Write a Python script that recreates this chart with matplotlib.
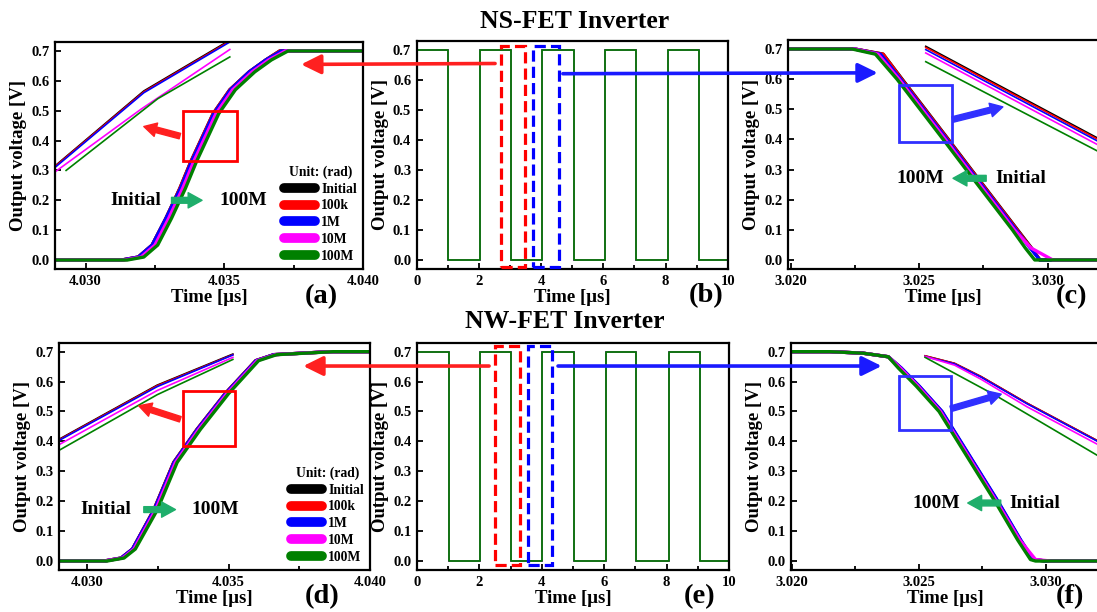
"""NS-FET vs NW-FET inverter transients under irradiation (6 panels)."""

import matplotlib

matplotlib.use("Agg")
import matplotlib.pyplot as plt
from matplotlib.lines import Line2D
from matplotlib.patches import ConnectionPatch, Rectangle

plt.rcParams["font.family"] = ["Liberation Serif", "DejaVu Serif"]
plt.rcParams["font.weight"] = "bold"
plt.rcParams["axes.labelweight"] = "bold"

DOSES = ["Initial", "100k", "1M", "10M", "100M"]
COLORS = ["#000000", "#ff0000", "#0000ff", "#ff00ff", "#008000"]
ARROW_GREEN = "#1fae6b"

# ---- (a) NS-FET rising edge, 4.03 us ---------------------------------------
V_RISE_A = [0.0, 0.0, 0.01, 0.05, 0.14, 0.24, 0.33, 0.41, 0.49, 0.57, 0.63, 0.67, 0.70, 0.70]
T_RISE_A = {
    "Initial": [4.0289, 4.0313, 4.0319, 4.0324, 4.0329, 4.0334, 4.0338, 4.0342, 4.0346, 4.0352, 4.0359, 4.0365, 4.0370, 4.0400],
    "100k":    [4.0289, 4.0313, 4.0319, 4.0324, 4.0329, 4.0334, 4.0338, 4.0342, 4.0346, 4.0352, 4.0359, 4.0365, 4.0370, 4.0400],
    "1M":      [4.0289, 4.0313, 4.0319, 4.0324, 4.0329, 4.03342, 4.03382, 4.03422, 4.03462, 4.03522, 4.0359, 4.0365, 4.03705, 4.0400],
    "10M":     [4.0289, 4.0314, 4.0320, 4.0325, 4.0330, 4.0335, 4.0339, 4.0343, 4.0347, 4.0353, 4.0360, 4.0366, 4.0372, 4.0400],
    "100M":    [4.0289, 4.0315, 4.0321, 4.0326, 4.0331, 4.0336, 4.0340, 4.0344, 4.0348, 4.0354, 4.0361, 4.0367, 4.0373, 4.0400],
}
# magnified view pasted into the upper-left corner
ZOOM_A_T = {
    "Initial": [4.0289, 4.0321, 4.0352],
    "100k":    [4.0289, 4.0321, 4.0352],
    "1M":      [4.0289, 4.0321, 4.0352],
    "10M":     [4.0289, 4.0320, 4.0352],
    "100M":    [4.0293, 4.0326, 4.0352],
}
ZOOM_A_V = {
    "Initial": [0.315, 0.566, 0.736],
    "100k":    [0.313, 0.563, 0.733],
    "1M":      [0.310, 0.560, 0.730],
    "10M":     [0.295, 0.505, 0.705],
    "100M":    [0.300, 0.540, 0.680],
}

# ---- (b)/(e) full 10 us output waveforms -----------------------------------
V_SQ = [0.7, 0.7, 0.0, 0.0, 0.7, 0.7, 0.0, 0.0, 0.7, 0.7, 0.0, 0.0, 0.7, 0.7, 0.0, 0.0, 0.7, 0.7, 0.0, 0.0]
T_SQ_B = [0, 1.02, 1.02, 2.02, 2.02, 3.03, 3.03, 4.04, 4.04, 5.06, 5.06, 6.06, 6.06, 7.06, 7.06, 8.07, 8.07, 9.08, 9.08, 10]
T_SQ_E = [0, 1.02, 1.02, 2.03, 2.03, 3.02, 3.02, 4.02, 4.02, 5.03, 5.03, 6.05, 6.05, 7.03, 7.03, 8.08, 8.08, 9.06, 9.06, 10]

# ---- (c) NS-FET falling edge, 3.02 us --------------------------------------
V_FALL_C = [0.7, 0.7, 0.683, 0.6, 0.5, 0.4, 0.3, 0.2, 0.1, 0.04, 0.0, 0.0]
T_FALL_C = {
    "Initial": [3.0199, 3.0225, 3.0236, 3.02434, 3.02524, 3.02614, 3.02703, 3.02793, 3.02883, 3.02937, 3.0297, 3.0322],
    "100k":    [3.0199, 3.0225, 3.0236, 3.02432, 3.02522, 3.02612, 3.02701, 3.02791, 3.02881, 3.02935, 3.0297, 3.0322],
    "1M":      [3.0199, 3.0225, 3.0235, 3.02428, 3.02518, 3.02608, 3.02697, 3.02787, 3.02877, 3.02932, 3.0297, 3.0322],
    "10M":     [3.0199, 3.0225, 3.0234, 3.02422, 3.02512, 3.02602, 3.02691, 3.02781, 3.02871, 3.02935, 3.0302, 3.0322],
    "100M":    [3.0199, 3.0224, 3.0233, 3.02414, 3.02504, 3.02594, 3.02683, 3.02773, 3.02863, 3.02913, 3.0295, 3.0322],
}
ZOOM_C_T = [3.02526, 3.0322]
ZOOM_C_V = {
    "Initial": [0.709, 0.393],
    "100k":    [0.705, 0.389],
    "1M":      [0.698, 0.383],
    "10M":     [0.687, 0.371],
    "100M":    [0.658, 0.350],
}

# ---- (d) NW-FET rising edge ------------------------------------------------
V_RISE_D = [0.0, 0.0, 0.01, 0.04, 0.17, 0.33, 0.44, 0.56, 0.67, 0.69, 0.70, 0.70]
T_RISE_D = {
    "Initial": [4.029, 4.0306, 4.0312, 4.0316, 4.03235, 4.03306, 4.03388, 4.03488, 4.03596, 4.0366, 4.0386, 4.0400],
    "100k":    [4.029, 4.0306, 4.0312, 4.0316, 4.03235, 4.03306, 4.03388, 4.03488, 4.03596, 4.0366, 4.0386, 4.0400],
    "1M":      [4.029, 4.0306, 4.0312, 4.0316, 4.03236, 4.03307, 4.03389, 4.03489, 4.03597, 4.0366, 4.0386, 4.0400],
    "10M":     [4.029, 4.0306, 4.03125, 4.03165, 4.03241, 4.03312, 4.03394, 4.03494, 4.03601, 4.03665, 4.0386, 4.0400],
    "100M":    [4.029, 4.0307, 4.0313, 4.0317, 4.03247, 4.03318, 4.0340, 4.0350, 4.03606, 4.0367, 4.0387, 4.0400],
}
ZOOM_D_T = [4.029, 4.03247, 4.03515]
ZOOM_D_V = {
    "Initial": [0.407, 0.588, 0.692],
    "100k":    [0.405, 0.586, 0.690],
    "1M":      [0.403, 0.583, 0.689],
    "10M":     [0.389, 0.570, 0.681],
    "100M":    [0.370, 0.556, 0.674],
}

# ---- (f) NW-FET falling edge -----------------------------------------------
V_FALL_F = [0.7, 0.7, 0.695, 0.683, 0.645, 0.585, 0.5, 0.35, 0.2, 0.07, 0.005, 0.0, 0.0]
T_FALL_F = {
    "Initial": [3.0199, 3.0215, 3.0228, 3.0238, 3.0243, 3.0250, 3.0259, 3.0270, 3.0281, 3.0290, 3.0295, 3.0300, 3.0322],
    "100k":    [3.0199, 3.0215, 3.0228, 3.0238, 3.0243, 3.0250, 3.0259, 3.0270, 3.0281, 3.0290, 3.0295, 3.0300, 3.0322],
    "1M":      [3.0199, 3.0215, 3.0228, 3.0238, 3.02432, 3.02502, 3.02592, 3.02702, 3.02812, 3.02902, 3.02952, 3.0300, 3.0322],
    "10M":     [3.0199, 3.0215, 3.0228, 3.0238, 3.02428, 3.02497, 3.02586, 3.02696, 3.02806, 3.02898, 3.0296, 3.0302, 3.0322],
    "100M":    [3.0199, 3.0215, 3.0228, 3.0238, 3.0242, 3.0249, 3.0258, 3.0269, 3.0280, 3.0289, 3.0294, 3.0296, 3.0322],
}
ZOOM_F_T = {
    "Initial": [3.02525, 3.02641, 3.02745, 3.02926, 3.0322],
    "100k":    [3.02525, 3.02641, 3.02745, 3.02926, 3.0322],
    "1M":      [3.02525, 3.02641, 3.02745, 3.02926, 3.0322],
    "10M":     [3.02525, 3.02641, 3.02745, 3.02926, 3.0322],
    "100M":    [3.02525, 3.0280, 3.0322],
}
ZOOM_F_V = {
    "Initial": [0.686, 0.661, 0.617, 0.528, 0.395],
    "100k":    [0.686, 0.661, 0.617, 0.528, 0.395],
    "1M":      [0.684, 0.659, 0.615, 0.526, 0.393],
    "10M":     [0.684, 0.655, 0.608, 0.516, 0.383],
    "100M":    [0.681, 0.555, 0.345],
}

YTICKS = [0.0, 0.1, 0.2, 0.3, 0.4, 0.5, 0.6, 0.7]

fig = plt.figure(figsize=(10.97, 6.12), dpi=100)
W, H = 1097, 612


def px_axes(left, top, right, bottom):
    """Axes placed by its pixel box in the 1097x612 canvas."""
    return fig.add_axes([left / W, 1 - bottom / H, (right - left) / W, (bottom - top) / H])


def style(ax, xlim, xticks, xminor, fmt, letter, letter_xy):
    ax.set_xlim(*xlim)
    ax.set_ylim(-0.03, 0.73)
    ax.set_xticks(xticks)
    ax.set_xticks(xminor, minor=True)
    ax.set_xticklabels([fmt.format(x) for x in xticks])
    ax.set_yticks(YTICKS)
    ax.set_yticklabels([f"{y:.1f}" for y in YTICKS])
    ax.tick_params(which="both", direction="in", labelsize=10.5, width=1.3, pad=4)
    ax.tick_params(which="major", length=4.5)
    ax.tick_params(which="minor", length=3)
    ax.tick_params(top=False, right=False)
    for s in ax.spines.values():
        s.set_linewidth(1.6)
    ax.set_xlabel("Time [\u03bcs]", fontsize=13.5, labelpad=1)
    ax.set_ylabel("Output voltage [V]", fontsize=13.5, labelpad=3)
    ax.text(*letter_xy, letter, transform=ax.transAxes, fontsize=20.5,
            ha="center", va="center", clip_on=False)


def edge_panel(ax, times, volts, zoom_t, zoom_v):
    for dose, c in zip(DOSES, COLORS):
        ax.plot(times[dose], volts, color=c, lw=2.4, solid_joinstyle="round")
    for dose, c in zip(DOSES, COLORS):
        zt = zoom_t[dose] if isinstance(zoom_t, dict) else zoom_t
        ax.plot(zt, zoom_v[dose], color=c, lw=1.2)


def wave_panel(ax, t_sq):
    for c in COLORS:
        ax.plot(t_sq, V_SQ, color=c, lw=1.3)


def box(ax, x0, x1, y0, y1, color, dashed=False):
    ax.add_patch(Rectangle((x0, y0), x1 - x0, y1 - y0, fill=False, ec=color,
                           lw=2.3 if dashed else 2.0,
                           ls=(0, (3.5, 1.6)) if dashed else "-", clip_on=False, zorder=5))


def arrow(ax, start, end, color, scale=10, tail=0.42):
    ax.annotate("", xy=end, xytext=start,
                arrowprops=dict(arrowstyle=f"simple,head_width=1.1,head_length=1.0,tail_width={tail}",
                                fc=color, ec=color, mutation_scale=scale, shrinkA=0, shrinkB=0),
                zorder=6)


def link(ax_from, xy_from, ax_to, xy_to, color):
    con = ConnectionPatch(xyA=xy_from, coordsA=ax_from.transData, xyB=xy_to, coordsB=ax_to.transData,
                          arrowstyle="-|>,head_length=0.85,head_width=0.42", mutation_scale=14,
                          color=color, lw=2.6, shrinkA=0, shrinkB=0)
    fig.add_artist(con)


def legend(ax):
    handles = [Line2D([], [], color=c, lw=7, solid_capstyle="round") for c in COLORS]
    leg = ax.legend(handles, DOSES, title="Unit: (rad)", loc="lower right",
                    bbox_to_anchor=(1.0, 0.0), frameon=False, fontsize=9.8,
                    title_fontsize=9.8, handlelength=2.3, handletextpad=0.45,
                    labelspacing=0.28, borderaxespad=0.25, borderpad=0.2)
    leg.get_title().set_fontweight("bold")


# ---------------- top row: NS-FET ----------------
ax_a = px_axes(55, 42, 363, 269)
edge_panel(ax_a, T_RISE_A, V_RISE_A, ZOOM_A_T, ZOOM_A_V)
style(ax_a, (4.0289, 4.0400), [4.030, 4.035, 4.040], [4.0325, 4.0375], "{:.3f}", "(a)", (0.866, -0.122))
box(ax_a, 4.0335, 4.03545, 0.33, 0.50, "#ff0000")
arrow(ax_a, (4.0334, 0.415), (4.0321, 0.447), "#ff2020", scale=9, tail=0.45)
ax_a.text(4.0318, 0.2, "Initial", fontsize=14, ha="center", va="center")
ax_a.text(4.0357, 0.2, "100M", fontsize=14, ha="center", va="center")
arrow(ax_a, (4.0331, 0.2), (4.0342, 0.2), ARROW_GREEN)
legend(ax_a)

ax_b = px_axes(416.7, 41, 727.7, 269)
wave_panel(ax_b, T_SQ_B)
style(ax_b, (0, 10), [0, 2, 4, 6, 8, 10], [1, 3, 5, 7, 9], "{:d}", "(b)", (0.932, -0.115))
box(ax_b, 2.70, 3.48, -0.024, 0.713, "#ff0000", dashed=True)
box(ax_b, 3.75, 4.58, -0.024, 0.713, "#0000ff", dashed=True)

ax_c = px_axes(788, 40, 1099, 269)
edge_panel(ax_c, T_FALL_C, V_FALL_C, ZOOM_C_T, ZOOM_C_V)
style(ax_c, (3.0199, 3.0320), [3.020, 3.025, 3.030], [3.0225, 3.0275], "{:.3f}", "(c)", (0.913, -0.119))
box(ax_c, 3.02423, 3.0263, 0.39, 0.58, "#3030ff")
arrow(ax_c, (3.0263, 0.466), (3.02826, 0.508), "#3030ff", scale=9, tail=0.45)
ax_c.text(3.02503, 0.271, "100M", fontsize=14, ha="center", va="center")
ax_c.text(3.02897, 0.271, "Initial", fontsize=14, ha="center", va="center")
arrow(ax_c, (3.02761, 0.271), (3.02632, 0.271), ARROW_GREEN)

link(ax_b, (2.52, 0.655), ax_a, (4.03777, 0.655), "#ff2020")
link(ax_b, (4.70, 0.621), ax_c, (3.02339, 0.621), "#1a1aff")

# ---------------- bottom row: NW-FET ----------------
ax_d = px_axes(59, 342.7, 370, 570)
edge_panel(ax_d, T_RISE_D, V_RISE_D, ZOOM_D_T, ZOOM_D_V)
style(ax_d, (4.0290, 4.0400), [4.030, 4.035, 4.040], [4.0325, 4.0375], "{:.3f}", "(d)", (0.845, -0.117))
box(ax_d, 4.03338, 4.03524, 0.386, 0.57, "#ff0000")
arrow(ax_d, (4.03329, 0.474), (4.03182, 0.519), "#ff2020", scale=9, tail=0.45)
ax_d.text(4.03065, 0.172, "Initial", fontsize=14, ha="center", va="center")
ax_d.text(4.03453, 0.172, "100M", fontsize=14, ha="center", va="center")
arrow(ax_d, (4.0320, 0.172), (4.03312, 0.172), ARROW_GREEN)
legend(ax_d)

ax_e = px_axes(417, 342.7, 729, 570)
wave_panel(ax_e, T_SQ_E)
style(ax_e, (0, 10), [0, 2, 4, 6, 8, 10], [1, 3, 5, 7, 9], "{:d}", "(e)", (0.907, -0.117))
box(ax_e, 2.49, 3.29, -0.014, 0.719, "#ff0000", dashed=True)
box(ax_e, 3.56, 4.34, -0.014, 0.719, "#0000ff", dashed=True)

ax_f = px_axes(791, 342.7, 1099, 570)
edge_panel(ax_f, T_FALL_F, V_FALL_F, ZOOM_F_T, ZOOM_F_V)
style(ax_f, (3.01997, 3.0321), [3.020, 3.025, 3.030], [3.0225, 3.0275], "{:.3f}", "(f)", (0.906, -0.117))
box(ax_f, 3.02421, 3.02626, 0.437, 0.62, "#3030ff")
arrow(ax_f, (3.02626, 0.509), (3.02825, 0.558), "#3030ff", scale=9, tail=0.45)
ax_f.text(3.0257, 0.194, "100M", fontsize=14, ha="center", va="center")
ax_f.text(3.02959, 0.194, "Initial", fontsize=14, ha="center", va="center")
arrow(ax_f, (3.02823, 0.194), (3.02693, 0.194), ARROW_GREEN)

link(ax_e, (2.31, 0.652), ax_d, (4.03764, 0.652), "#ff2020")
link(ax_e, (4.52, 0.652), ax_f, (3.02354, 0.652), "#1a1aff")

fig.text(575 / W, 1 - 21 / H, "NS-FET Inverter", fontsize=18.5, ha="center", va="center")
fig.text(565 / W, 1 - 321 / H, "NW-FET Inverter", fontsize=18.5, ha="center", va="center")

fig.savefig("out.png", dpi=100)
